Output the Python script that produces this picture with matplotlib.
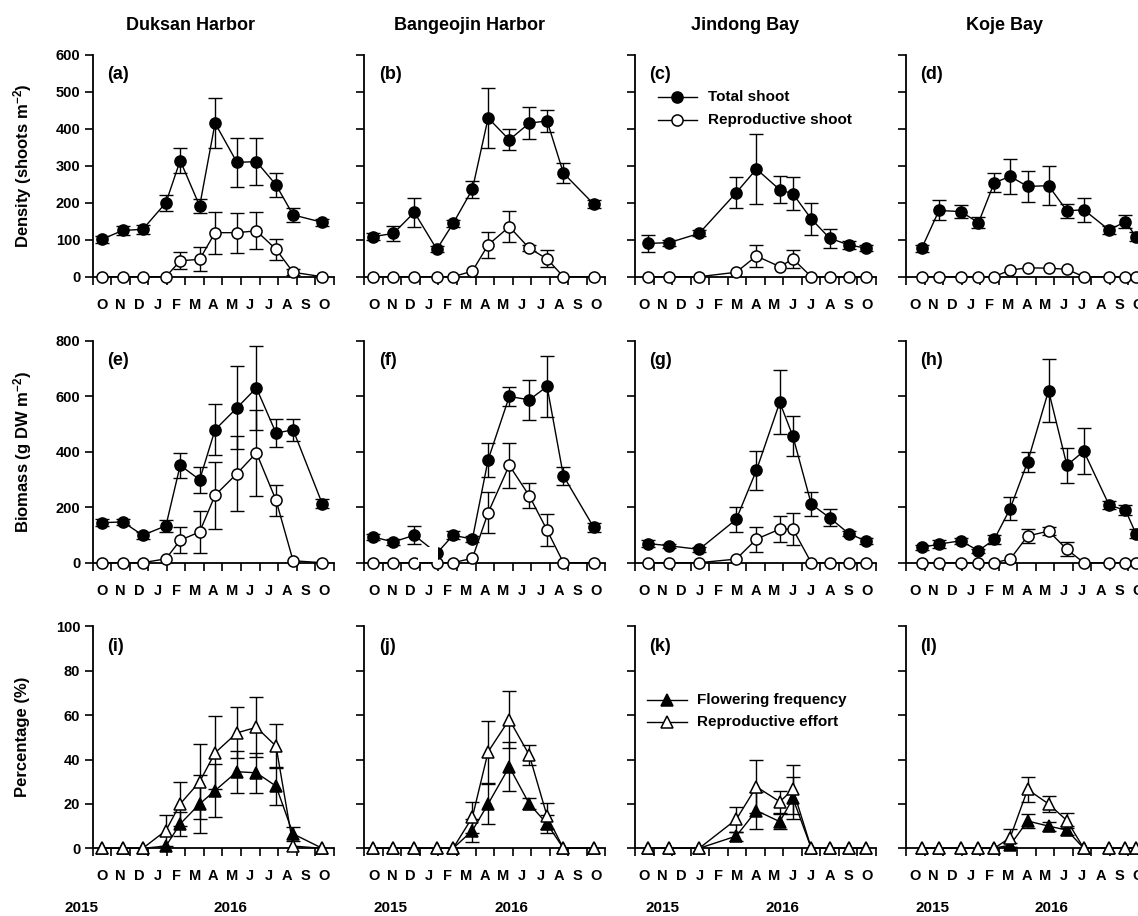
import numpy as np
import matplotlib.pyplot as plt
from matplotlib.patches import Rectangle

plt.rcParams['font.family'] = ['Liberation Sans', 'DejaVu Sans']
plt.rcParams['mathtext.default'] = 'regular'

months = ['O', 'N', 'D', 'J', 'F', 'M', 'A', 'M', 'J', 'J', 'A', 'S', 'O']
sites = ['Duksan Harbor', 'Bangeojin Harbor', 'Jindong Bay', 'Koje Bay']
tags = ['(a)', '(b)', '(c)', '(d)', '(e)', '(f)', '(g)', '(h)', '(i)', '(j)', '(k)', '(l)']

# sampling dates, in months from 1 Oct 2015
dk_x = [0.49, 1.62, 2.70, 3.95, 4.72, 5.77, 6.60, 7.78, 8.83, 9.89, 10.81, 12.38]
dk_tot = [101, 125, 128, 200, 314, 191, 415, 309, 311, 248, 167, 147]
dk_tot_se = [10, 12, 12, 22, 33, 18, 67, 67, 63, 33, 20, 10]
dk_rep = [0, 0, 0, 0, 43, 47, 119, 119, 124, 74, 12, 0]
dk_rep_se = [0, 0, 0, 0, 23, 32, 57, 54, 50, 28, 8, 0]
dk_tbm = [144, 147, 99, 133, 351, 299, 479, 558, 630, 467, 479, 213]
dk_tbm_se = [12, 10, 12, 22, 44, 47, 92, 150, 150, 50, 40, 15]
dk_rbm = [0, 0, 0, 14, 81, 111, 243, 321, 396, 225, 7, 0]
dk_rbm_se = [0, 0, 0, 0, 47, 75, 120, 135, 155, 56, 0, 0]
dk_ff = [0, 0, 0, 1, 11, 20, 26, 34.5, 34, 28, 6.5, 0]
dk_ff_se = [0, 0, 0, 0, 5.5, 13, 12, 9.5, 9, 8.5, 3, 0]
dk_re = [0, 0, 0, 8, 20, 30, 43, 52, 54.5, 46, 1, 0]
dk_re_se = [0, 0, 0, 7, 10, 17, 16.5, 11.5, 13.5, 10, 0, 0]

bg_x = [0.45, 1.57, 2.70, 3.91, 4.79, 5.83, 6.68, 7.82, 8.90, 9.86, 10.74, 12.38]
bg_tot = [108, 117, 174, 74, 144, 236, 429, 370, 415, 421, 280, 196]
bg_tot_se = [10, 20, 40, 8, 10, 22, 82, 28, 43, 30, 27, 10]
bg_rep = [0, 0, 0, 0, 0, 15, 86, 135, 77, 48, 0, 0]
bg_rep_se = [0, 0, 0, 0, 0, 0, 35, 42, 8, 23, 0, 0]
bg_tbm = [93, 75, 99, 34, 99, 85, 371, 599, 587, 635, 313, 127]
bg_tbm_se = [10, 10, 33, 0, 15, 10, 62, 33, 72, 110, 33, 15]
bg_rbm = [0, 0, 0, 0, 0, 16, 180, 351, 241, 117, 0, 0]
bg_rbm_se = [0, 0, 0, 0, 0, 0, 73, 81, 45, 57, 0, 0]
bg_ff = [0, 0, 0, 0, 0, 8, 20, 36.7, 20, 11, 0, 0]
bg_ff_se = [0, 0, 0, 0, 0, 5, 9, 11, 2.5, 4, 0, 0]
bg_re = [0, 0, 0, 0, 0, 14, 43.5, 58, 42, 14.5, 0, 0]
bg_re_se = [0, 0, 0, 0, 0, 7, 14, 13, 4.5, 6, 0, 0]

jd_x = [0.72, 1.84, 3.46, 5.46, 6.55, 7.81, 8.52, 9.51, 10.50, 11.53, 12.47]
jd_tot = [90, 92, 117, 227, 291, 235, 224, 156, 104, 86, 77]
jd_tot_se = [22, 8, 8, 42, 95, 37, 45, 43, 26, 10, 8]
jd_rep = [0, 0, 0, 12, 56, 27, 48, 0, 0, 0, 0]
jd_rep_se = [0, 0, 0, 0, 29, 0, 24, 0, 0, 0, 0]
jd_tbm = [69, 61, 48, 156, 333, 578, 455, 211, 162, 105, 78]
jd_tbm_se = [12, 8, 8, 45, 70, 116, 72, 42, 30, 10, 10]
jd_rbm = [0, 0, 0, 13, 85, 121, 121, 0, 0, 0, 0]
jd_rbm_se = [0, 0, 0, 0, 45, 47, 58, 0, 0, 0, 0]
jd_ff = [0, 0, 0, 5.5, 17, 12, 22.5, 0, 0, 0, 0]
jd_ff_se = [0, 0, 0, 2, 8.5, 3.5, 9.5, 0, 0, 0, 0]
jd_re = [0, 0, 0, 13, 27.7, 21, 26.5, 0, 0, 0, 0]
jd_re_se = [0, 0, 0, 5.5, 12, 5, 11, 0, 0, 0, 0]

kj_x = [0.85, 1.78, 2.95, 3.91, 4.76, 5.62, 6.56, 7.69, 8.68, 9.59, 10.96, 11.84, 12.40]
kj_tot = [77, 179, 176, 146, 254, 271, 244, 246, 178, 181, 126, 149, 108]
kj_tot_se = [10, 27, 18, 15, 25, 47, 42, 53, 18, 33, 10, 18, 12]
kj_rep = [0, 0, 0, 0, 0, 18, 24, 23, 20, 0, 0, 0, 0]
kj_rep_se = [0] * 13
kj_tbm = [55, 67, 79, 43, 84, 195, 363, 620, 351, 402, 207, 189, 105]
kj_tbm_se = [10, 15, 10, 8, 15, 40, 36, 113, 64, 84, 15, 18, 15]
kj_rbm = [0, 0, 0, 0, 0, 13, 96, 114, 48, 0, 0, 0, 0]
kj_rbm_se = [0, 0, 0, 0, 0, 0, 24, 15, 25, 0, 0, 0, 0]
kj_ff = [0, 0, 0, 0, 0, 1.5, 12.3, 10, 8.2, 0, 0, 0, 0]
kj_ff_se = [0, 0, 0, 0, 0, 1, 3, 2, 2, 0, 0, 0, 0]
kj_re = [0, 0, 0, 0, 0, 4.8, 26.5, 20, 12.5, 0, 0, 0, 0]
kj_re_se = [0, 0, 0, 0, 0, 4, 5.5, 3.5, 3.5, 0, 0, 0, 0]

site_x = [dk_x, bg_x, jd_x, kj_x]
density = [(dk_rep, dk_rep_se, dk_tot, dk_tot_se), (bg_rep, bg_rep_se, bg_tot, bg_tot_se),
           (jd_rep, jd_rep_se, jd_tot, jd_tot_se), (kj_rep, kj_rep_se, kj_tot, kj_tot_se)]
biomass = [(dk_rbm, dk_rbm_se, dk_tbm, dk_tbm_se), (bg_rbm, bg_rbm_se, bg_tbm, bg_tbm_se),
           (jd_rbm, jd_rbm_se, jd_tbm, jd_tbm_se), (kj_rbm, kj_rbm_se, kj_tbm, kj_tbm_se)]
percent = [(dk_ff, dk_ff_se, dk_re, dk_re_se), (bg_ff, bg_ff_se, bg_re, bg_re_se),
           (jd_ff, jd_ff_se, jd_re, jd_re_se), (kj_ff, kj_ff_se, kj_re, kj_re_se)]

W, H = 1138, 916
fig = plt.figure(figsize=(W / 100, H / 100), dpi=100)

col_left = [92.7, 364.3, 635, 906]
row_zero = [276.7, 562.7, 848.3]
ax_w, ax_h = 241, 222
row_ylim = [600, 800, 100]
row_step = [100, 200, 20]
row_lab = ['Density (shoots m$^{-2}$)', 'Biomass (g DW m$^{-2}$)', 'Percentage (%)']


def series(ax, x, y, se, filled, marker, ms):
    x = np.asarray(x, float)
    y = np.asarray(y, float)
    se = np.asarray(se, float)
    m = se > 0
    ax.errorbar(x[m], y[m], yerr=se[m], fmt='none', ecolor='k', elinewidth=1,
                capsize=5, capthick=1, zorder=2, clip_on=False)
    ax.plot(x, y, '-', color='k', lw=1, marker=marker, ms=ms,
            mfc='k' if filled else 'w', mec='k', mew=1.1, zorder=3, clip_on=False)


for r in range(3):
    for c in range(4):
        ax = fig.add_axes([col_left[c] / W, (H - row_zero[r]) / H, ax_w / W, ax_h / H])
        ax.set_xlim(0, 13)
        ax.set_ylim(0, row_ylim[r])
        ax.set_yticks(np.arange(0, row_ylim[r] + 1, row_step[r]))
        ax.set_xticks(np.arange(0, 14))
        ax.set_xticklabels([])
        ax.set_xticks(np.arange(0.5, 13), minor=True)
        ax.set_xticklabels(months, minor=True, fontweight='bold', fontsize=10.5)
        ax.tick_params(which='major', direction='out', length=6, width=1.2)
        ax.tick_params(which='minor', length=0, pad=15)
        ax.tick_params(axis='y', pad=3, labelsize=10.5)
        for s in ['top', 'right']:
            ax.spines[s].set_visible(False)
        for s in ['left', 'bottom']:
            ax.spines[s].set_linewidth(1.3)
        if c == 0:
            for t in ax.get_yticklabels():
                t.set_fontweight('bold')
        else:
            ax.set_yticklabels([])
        ax.text(0.06, 0.91, tags[r * 4 + c], transform=ax.transAxes, fontsize=13,
                fontweight='bold', va='center', ha='left')

        x = site_x[c]
        if r < 2:
            rep, rep_se, tot, tot_se = (density if r == 0 else biomass)[c]
            series(ax, x, rep, rep_se, False, 'o', 8)
            series(ax, x, tot, tot_se, True, 'o', 8)
        else:
            ff, ff_se, re, re_se = percent[c]
            series(ax, x, ff, ff_se, True, '^', 9)
            series(ax, x, re, re_se, False, '^', 9)

        if r == 1 and c == 1:
            # erased strip in the original figure
            ax.add_patch(Rectangle((2.9, 3), 1.05, 55, facecolor='white',
                                   edgecolor='none', zorder=10, clip_on=False))

        if r == 0 and c == 2:
            for yy, fill, lab in [(0.81, 'k', 'Total shoot'), (0.707, 'w', 'Reproductive shoot')]:
                ax.plot([0.095, 0.257], [yy, yy], color='k', lw=1, transform=ax.transAxes, clip_on=False)
                ax.plot([0.176], [yy], 'o', ms=8, mfc=fill, mec='k', mew=1.1,
                        transform=ax.transAxes, clip_on=False)
                ax.text(0.303, yy, lab, transform=ax.transAxes, fontsize=11,
                        fontweight='bold', va='center', ha='left')
        if r == 2 and c == 2:
            for yy, fill, lab in [(0.667, 'k', 'Flowering frequency'), (0.568, 'w', 'Reproductive effort')]:
                ax.plot([0.05, 0.216], [yy, yy], color='k', lw=1, transform=ax.transAxes, clip_on=False)
                ax.plot([0.133], [yy], '^', ms=9, mfc=fill, mec='k', mew=1.1,
                        transform=ax.transAxes, clip_on=False)
                ax.text(0.257, yy, lab, transform=ax.transAxes, fontsize=11,
                        fontweight='bold', va='center', ha='left')

# row labels
for r in range(3):
    yc = row_zero[r] - ax_h / 2
    fig.text(23 / W, 1 - yc / H, row_lab[r], rotation=90, ha='center', va='center',
             fontsize=12, fontweight='bold')

# site titles
for xc, name in zip([190, 470, 745, 1005], sites):
    fig.text(xc / W, 1 - 25 / H, name, ha='center', va='center', fontsize=13, fontweight='bold')

# years
for x15, x16 in [(82, 230), (391, 511), (662, 782), (932, 1051)]:
    fig.text(x15 / W, 1 - 908 / H, '2015', ha='center', va='center', fontsize=11, fontweight='bold')
    fig.text(x16 / W, 1 - 908 / H, '2016', ha='center', va='center', fontsize=11, fontweight='bold')

fig.savefig('out.png', dpi=100)
